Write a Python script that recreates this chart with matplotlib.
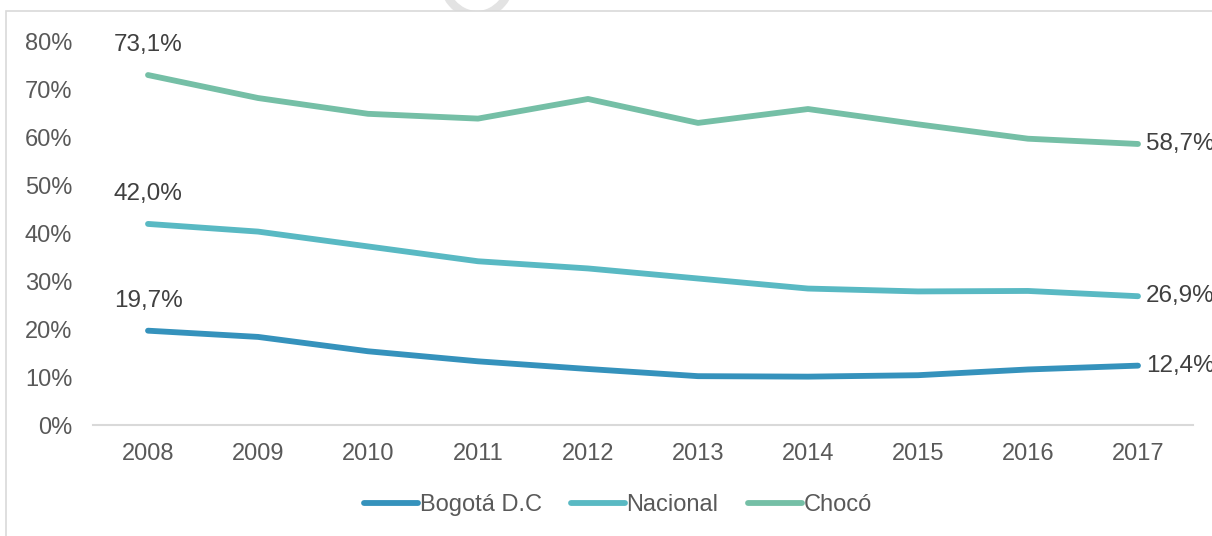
import matplotlib.pyplot as plt
from matplotlib.patches import Rectangle, Arc

years = ['2008', '2009', '2010', '2011', '2012', '2013', '2014', '2015', '2016', '2017']
bogota = [19.7, 18.4, 15.4, 13.3, 11.7, 10.2, 10.1, 10.4, 11.6, 12.4]
nacional = [42.0, 40.4, 37.3, 34.2, 32.7, 30.6, 28.5, 27.9, 28.0, 26.9]
choco = [73.1, 68.3, 65.0, 64.0, 68.1, 63.1, 66.0, 62.8, 59.8, 58.7]
series_names = ['Bogotá D.C', 'Nacional', 'Chocó']
colors = ['#3592BC', '#59B9C3', '#75BFA6']

plt.rcParams['font.family'] = ['Liberation Sans', 'DejaVu Sans']

W, H = 1212, 536
fig = plt.figure(figsize=(W / 100, H / 100), dpi=100)
ax = fig.add_axes([93 / W, 1 - 425 / H, 1100 / W, (425 - 42) / H])
ax.patch.set_alpha(0)

# marca de agua (tapada por el fondo blanco del grafico) y marco
fig.patches.append(Arc((477 / W, 1 + 25 / H), 70 / W, 80 / H,
                       transform=fig.transFigure, color='#E3E3E3', linewidth=6, zorder=-3))
fig.patches.append(Rectangle((6 / W, -0.2), 1.2, 1.2 - 11 / H, transform=fig.transFigure,
                             facecolor='white', edgecolor='#D9D9D9', linewidth=1.2, zorder=-2))

x = list(range(len(years)))
for vals, name, c in zip([bogota, nacional, choco], series_names, colors):
    ax.plot(x, vals, color=c, linewidth=4.2, solid_capstyle='round', label=name)
    ax.text(x[0], vals[0] + 4.0, f'{vals[0]:.1f}%'.replace('.', ','), ha='center', va='bottom',
            fontsize=17.5, color='#404040')
    ax.text(x[-1] + 0.07, vals[-1], f'{vals[-1]:.1f}%'.replace('.', ','), ha='left', va='center',
            fontsize=17.5, color='#404040', clip_on=False)

ax.set_xlim(-0.5, len(years) - 0.5)
ax.set_ylim(0, 80)
ax.set_xticks(x)
ax.set_xticklabels(years)
ax.set_yticks(range(0, 81, 10))
ax.set_yticklabels([f'{v}%' for v in range(0, 81, 10)])
ax.tick_params(axis='both', length=0, labelsize=17, colors='#595959')
ax.tick_params(axis='x', pad=13)
ax.tick_params(axis='y', pad=15)
for s in ['top', 'right', 'left']:
    ax.spines[s].set_visible(False)
ax.spines['bottom'].set_color('#D9D9D9')
ax.spines['bottom'].set_linewidth(1.5)

leg = ax.legend(loc='center', bbox_to_anchor=(618 / W, 1 - 505 / H), bbox_transform=fig.transFigure,
                ncol=3, frameon=False, fontsize=17, handlelength=2.3, handletextpad=0.05,
                columnspacing=1.25)
for t in leg.get_texts():
    t.set_color('#595959')

fig.savefig('out.png', dpi=100)
